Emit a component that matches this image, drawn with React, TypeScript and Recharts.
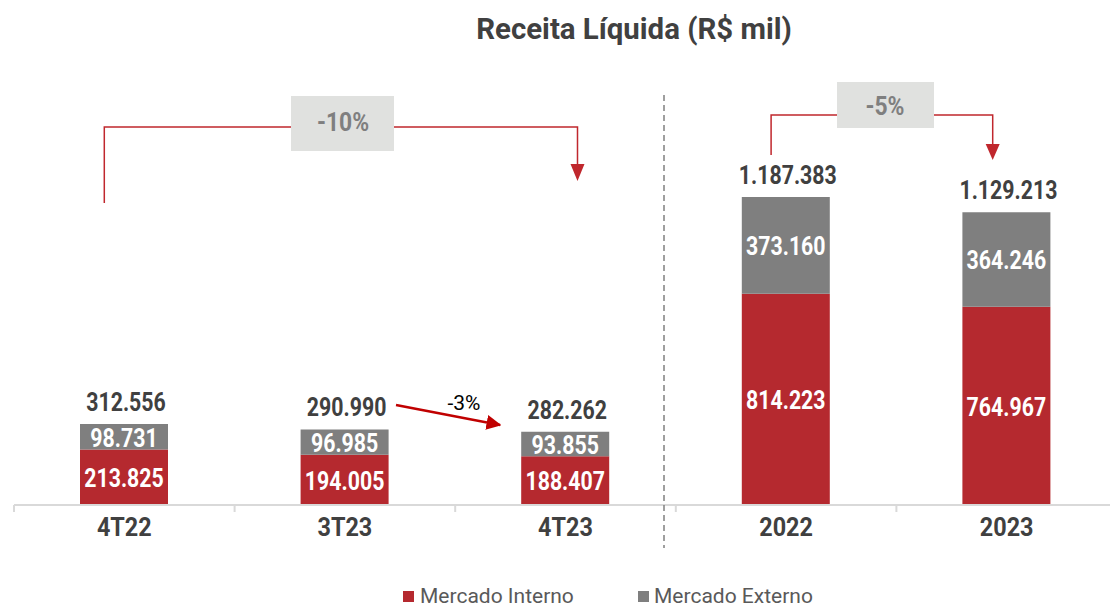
import React from 'react';
import { BarChart, Bar, XAxis, YAxis, LabelList } from 'recharts';

const CATEGORIES = ['4T22', '3T23', '4T23', '2022', '2023'];
const MERCADO_INTERNO = [213825, 194005, 188407, 814223, 764967];
const MERCADO_EXTERNO = [98731, 96985, 93855, 373160, 364246];
const SERIES_NAMES = ['Mercado Interno', 'Mercado Externo'];
const VAR_LABELS = ['-10%', '-3%', '-5%'];

const RED = '#B5292F';
const GRAY = '#7F7F7F';
const DARK = '#404040';
const FONT = 'Roboto, "Noto Sans", sans-serif';

const W = 1125;
const H = 609;
const MARGIN = { top: 129, right: 8, left: 14, bottom: 74 };
const BAND = (W - MARGIN.left - MARGIN.right) / CATEGORIES.length;
const Y_MAX = 1450000;
const BASE_Y = H - MARGIN.bottom - 30;

const data = CATEGORIES.map((name, i) => ({
    name,
    interno: MERCADO_INTERNO[i],
    externo: MERCADO_EXTERNO[i],
    total: MERCADO_INTERNO[i] + MERCADO_EXTERNO[i],
}));

// pt-BR style thousands separator
const fmt = (v: number) => String(Math.round(v)).replace(/\B(?=(\d{3})+(?!\d))/g, '.');

const cx = (i: number) => MARGIN.left + BAND * (i + 0.5);

// condensed-looking bold text (no condensed font available)
function CText({ x, y, size = 26, weight = 700, fill = DARK, sx = 0.82, children }: any) {
    return (
        <text
            transform={`translate(${x},${y}) scale(${sx},1)`}
            textAnchor="middle"
            dominantBaseline="central"
            fontFamily={FONT}
            fontSize={size}
            fontWeight={weight}
            fill={fill}
        >
            {children}
        </text>
    );
}

const InsideLabel = (props: any) => {
    const { x, y, width, height, value } = props;
    return <CText x={x + width / 2} y={y + height / 2 + 1} fill="#fff">{fmt(value)}</CText>;
};

const TotalLabel = (props: any) => {
    const { x, y, width, index } = props;
    return <CText x={x + width / 2 + 2} y={y - 22}>{fmt(data[index].total)}</CText>;
};

const AxisTick = (props: any) => {
    const { x, y, payload } = props;
    return (
        <g>
            <line x1={x - BAND / 2} x2={x - BAND / 2} y1={BASE_Y} y2={BASE_Y + 7} stroke="#D9D9D9" strokeWidth={2} />
            <CText x={x} y={y + 14} sx={0.9}>{payload.value}</CText>
        </g>
    );
};

function Overlay() {
    const b1L = cx(0) - 20;
    const b1R = cx(2) + 12;
    const b2L = cx(3) - 15;
    const b2R = cx(4) - 14;
    return (
        <svg width={1110} height={H} style={{ position: 'absolute', left: 0, top: 0, pointerEvents: 'none' }}>
            <defs>
                <marker id="arr" viewBox="0 0 10 10" refX="9" refY="5" markerWidth="6" markerHeight="6" orient="auto">
                    <path d="M0,0 L10,5 L0,10 z" fill="#C00000" />
                </marker>
            </defs>
            <CText x={634} y={28} size={30} sx={0.98}>Receita Líquida (R$ mil)</CText>

            {/* separator */}
            <line x1={664} x2={664} y1={95} y2={548} stroke="#808080" strokeWidth={1.5} strokeDasharray="6 4" />

            {/* -10% bracket */}
            <polyline points={`${b1L},203 ${b1L},127 ${b1R},127 ${b1R},165`} fill="none" stroke="#C0272D" strokeWidth={1.5} />
            <path d={`M${b1R - 7},164 L${b1R + 7},164 L${b1R},181 z`} fill="#C0272D" />
            <rect x={291} y={96} width={103} height={55} fill="#E0E1DF" />
            <CText x={343} y={122} size={26} fill={GRAY} sx={0.88}>{VAR_LABELS[0]}</CText>

            {/* -5% bracket */}
            <polyline points={`${b2L},155 ${b2L},115 ${b2R},115 ${b2R},145`} fill="none" stroke="#C0272D" strokeWidth={1.5} />
            <path d={`M${b2R - 7},144 L${b2R + 7},144 L${b2R},160 z`} fill="#C0272D" />
            <rect x={837} y={82} width={97} height={46} fill="#E0E1DF" />
            <CText x={885} y={106} size={26} fill={GRAY} sx={0.88}>{VAR_LABELS[2]}</CText>

            {/* -3% arrow */}
            <line x1={396} y1={405} x2={500} y2={425} stroke="#C00000" strokeWidth={2.5} markerEnd="url(#arr)" />
            <text x={464} y={410} textAnchor="middle" fontFamily={FONT} fontSize={21} fill="#000">{VAR_LABELS[1]}</text>

            {/* legend */}
            <rect x={403} y={591} width={11} height={11} fill={RED} />
            <text x={420} y={603} fontFamily={FONT} fontSize={21} fill="#595959">{SERIES_NAMES[0]}</text>
            <rect x={638} y={591} width={11} height={11} fill={GRAY} />
            <text x={654} y={603} fontFamily={FONT} fontSize={21} fill="#595959">{SERIES_NAMES[1]}</text>
        </svg>
    );
}

export default function App() {
    return (
        <div style={{ position: 'fixed', left: 0, top: 0, width: 1110, height: H, overflow: 'hidden', background: '#fff' }}>
            <BarChart width={W} height={H} data={data} margin={MARGIN} barSize={88}>
                <XAxis
                    dataKey="name"
                    height={30}
                    axisLine={{ stroke: '#D9D9D9', strokeWidth: 2 }}
                    tickLine={false}
                    tick={<AxisTick />}
                    interval={0}
                />
                <YAxis hide domain={[0, Y_MAX]} />
                <Bar dataKey="interno" stackId="a" fill={RED} isAnimationActive={false}>
                    <LabelList dataKey="interno" content={<InsideLabel />} />
                </Bar>
                <Bar dataKey="externo" stackId="a" fill={GRAY} isAnimationActive={false}>
                    <LabelList dataKey="externo" content={<InsideLabel />} />
                    <LabelList dataKey="total" content={<TotalLabel />} />
                </Bar>
            </BarChart>
            <Overlay />
        </div>
    );
}
